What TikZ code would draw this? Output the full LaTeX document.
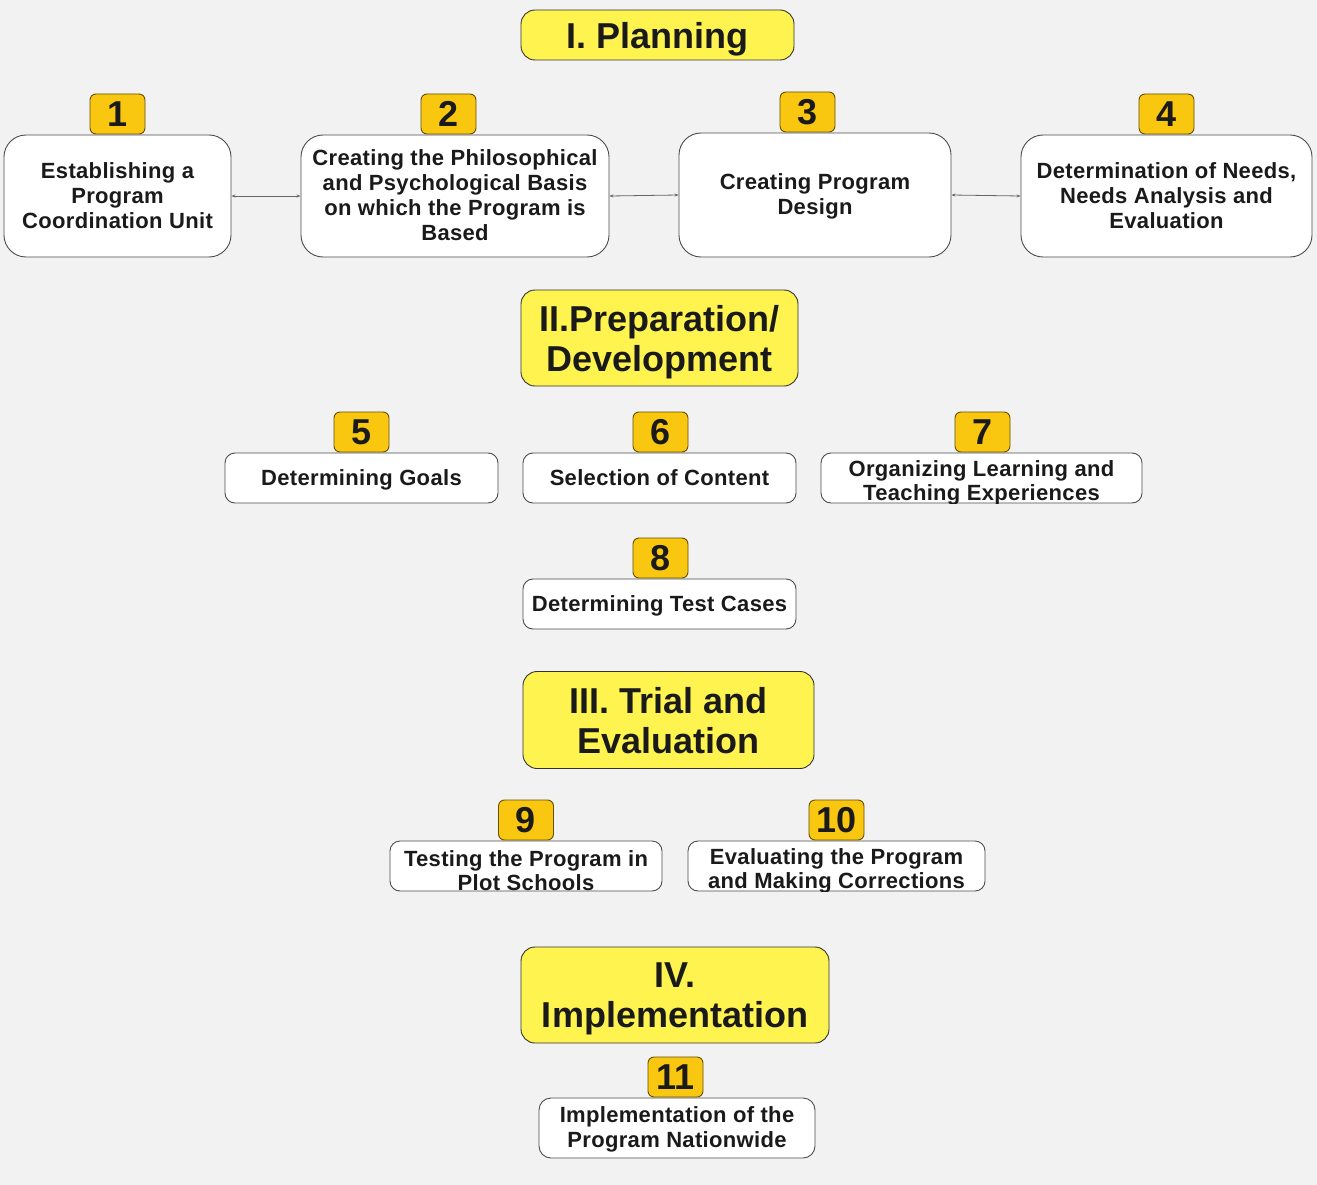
\documentclass[tikz,border=0pt]{standalone}
\usepackage{fontspec}
\setmainfont{Liberation Sans}
\newfontfamily\bodyfont[LetterSpace=1.5]{Liberation Sans}
\usetikzlibrary{arrows.meta}
\definecolor{bg}{HTML}{F2F2F2}
\definecolor{ttl}{HTML}{FFF44F}
\definecolor{badge}{HTML}{F9C70F}
\definecolor{ink}{HTML}{1A1A1A}
\begin{document}
\begin{tikzpicture}[x=1pt,y=-1pt,
  box/.style={draw=black!70, fill=white, line width=0.9pt, rounded corners=#1, inner sep=0pt,
    font=\bodyfont\bfseries\fontsize{22}{25}\selectfont, text=ink, align=center, text depth=1pt},
  box/.default=22pt,
  ttlbox/.style={draw=black!80, fill=ttl, line width=0.9pt, rounded corners=14pt, inner sep=0pt,
    font=\bfseries\fontsize{36}{40}\selectfont, text=ink, align=center, text depth=0pt},
  num/.style={draw=black!60!badge, fill=badge, line width=0.9pt, rounded corners=6pt, inner sep=0pt,
    minimum width=55pt, minimum height=40pt, font=\bfseries\fontsize{36}{40}\selectfont, text=ink},
  txt/.style={inner sep=0pt, font=\bodyfont\bfseries\fontsize{22}{24}\selectfont, text=ink, align=center},
  link/.style={draw=black!60, line width=0.8pt, {Stealth[length=4pt,width=3pt]}-{Stealth[length=4pt,width=3pt]}}
]
\fill[bg] (0,0) rectangle (1317,1185);
\useasboundingbox (0,0) rectangle (1317,1185);

% I. Planning
\node[ttlbox, minimum width=273pt, minimum height=50pt] (t1) at (657.5,35) {I. Planning};

\node[box, minimum width=227pt, minimum height=122pt] (b1) at (117.5,196) {Establishing a\\Program\\Coordination Unit};
\node[box, minimum width=308pt, minimum height=122pt] (b2) at (455,196) {Creating the Philosophical\\and Psychological Basis\\on which the Program is\\Based};
\node[box, minimum width=272pt, minimum height=124pt] (b3) at (815,195) {Creating Program\\Design};
\node[box, minimum width=291pt, minimum height=122pt] (b4) at (1166.5,196) {Determination of Needs,\\Needs Analysis and\\Evaluation};

\node[num] (n1) at (117.5,114) {1};
\node[num] (n2) at (448.5,114) {2};
\node[num] (n3) at (807.5,112) {3};
\node[num] (n4) at (1166.5,114) {4};

\draw[link] (b1.east) -- (b2.west);
\draw[link] (b2.east) -- (b3.west);
\draw[link] (b3.east) -- (b4.west);

% II. Preparation
\node[ttlbox, minimum width=277pt, minimum height=96pt] (t2) at (659.5,338) {II.Preparation/\\Development};

\node[box=10pt, minimum width=273pt, minimum height=50pt] (b5) at (361.5,478) {Determining Goals};
\node[box=10pt, minimum width=273pt, minimum height=50pt] (b6) at (659.5,478) {Selection of Content};
\node[box=10pt, minimum width=321pt, minimum height=50pt] (b7) at (981.5,478) {};
\begin{scope}
\clip[rounded corners=10pt] (b7.south west) rectangle (b7.north east);
\node[txt] (x7) at (981.5,483) {Organizing Learning and\\Teaching Experiences};
\end{scope}
\node[num] (n5) at (361.5,432) {5};
\node[num] (n6) at (660.5,432) {6};
\node[num] (n7) at (982.5,432) {7};

\node[box=10pt, minimum width=273pt, minimum height=50pt] (b8) at (659.5,604) {Determining Test Cases};
\node[num] (n8) at (660.5,558) {8};

% III. Trial
\node[ttlbox, minimum width=291pt, minimum height=97pt] (t3) at (668.5,720) {III. Trial and\\Evaluation};

\node[box=10pt, minimum width=272pt, minimum height=50pt] (b9) at (526,866) {};
\begin{scope}
\clip[rounded corners=10pt] (b9.south west) rectangle (b9.north east);
\node[txt] (x9) at (526,871) {Testing the Program in\\Plot Schools};
\end{scope}
\node[box=10pt, minimum width=297pt, minimum height=50pt] (b10) at (836.5,866) {};
\begin{scope}
\clip[rounded corners=10pt] (b10.south west) rectangle (b10.north east);
\node[txt] (x10) at (836.5,871) {Evaluating the Program\\and Making Corrections};
\end{scope}
\node[num] (n9) at (526,820) {9};
\node[num] (n10) at (836.5,820) {10};

% IV. Implementation
\node[ttlbox, minimum width=308pt, minimum height=96pt] (t4) at (675,995) {IV.\\Implementation};

\node[box=12pt, minimum width=276pt, minimum height=60pt] (b11) at (677,1128) {Implementation of the\\Program Nationwide};
\node[num] (n11) at (675.5,1077) {11};
\end{tikzpicture}
\end{document}
